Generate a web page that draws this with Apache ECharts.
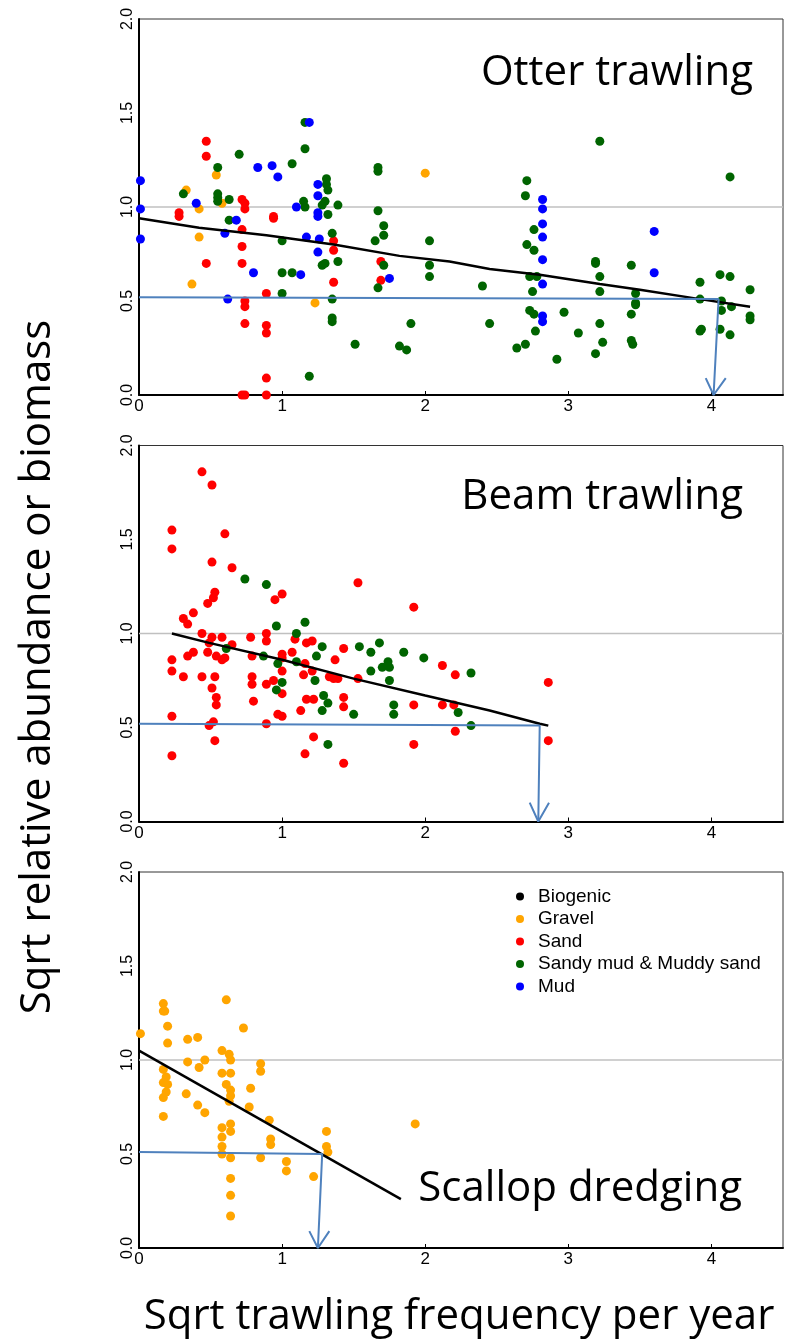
<!DOCTYPE html>
<html>
<head>
<meta charset="utf-8">
<script src="https://cdn.jsdelivr.net/npm/echarts@6/dist/echarts.min.js"></script>
<style>
  html, body { margin: 0; padding: 0; background: #fff; }
  #chart { width: 792px; height: 1340px; }
</style>
</head>
<body>
<div id="chart"></div>
<script>
const habitats = ['Biogenic', 'Gravel', 'Sand', 'Sandy mud & Muddy sand', 'Mud'];
const habitatColors = ['#000000', '#FFA500', '#FF0000', '#006400', '#0000FF'];
const panelNames = ['Otter trawling', 'Beam trawling', 'Scallop dredging'];
const xTicks = [0, 1, 2, 3, 4];
const refLine = [[0, 1], [4.5, 1]];

// Otter trawling
const otterGravel = [[0.33,1.09],[0.54,1.17],[0.58,1.02],[0.42,0.99],[0.42,0.84],[0.37,0.59],[1.23,0.49],[2.00,1.18]];
const otterSand = [[0.47,1.35],[0.47,1.27],[0.28,0.97],[0.28,0.95],[0.47,0.70],[0.72,1.04],[0.74,1.02],[0.74,0.99],
  [0.72,0.88],[0.72,0.79],[0.72,0.70],[0.74,0.50],[0.74,0.47],[0.74,0.38],[0.89,0.54],[0.89,0.37],[0.89,0.33],
  [0.89,0.09],[0.89,0.00],[0.72,0.00],[0.74,0.00],[0.94,0.95],[0.94,0.94],[1.36,0.82],[1.36,0.77],[1.36,0.60],
  [1.69,0.71],[1.69,0.61]];
const otterMixed = [[0.31,1.07],[0.55,1.21],[0.55,1.07],[0.55,1.05],[0.55,1.03],[0.63,1.04],[0.63,0.93],[0.70,1.28],
  [1.00,0.82],[1.00,0.65],[1.00,0.54],[1.07,0.65],[1.07,1.23],[1.16,1.45],[1.16,1.31],[1.15,1.03],[1.16,1.00],
  [1.19,0.10],[1.28,1.01],[1.30,1.03],[1.31,1.15],[1.31,1.12],[1.32,1.09],[1.32,0.96],[1.35,0.86],[1.28,0.69],
  [1.30,0.70],[1.39,0.71],[1.39,1.01],[1.35,0.51],[1.35,0.41],[1.35,0.39],[1.51,0.27],[1.67,1.21],[1.67,1.19],
  [1.67,0.98],[1.65,0.82],[1.71,0.90],[1.71,0.85],[1.71,0.69],[1.67,0.57],[1.90,0.38],[1.82,0.26],[1.87,0.24],
  [2.03,0.82],[2.03,0.69],[2.03,0.63],
  [3.22,1.35],[4.13,1.16],[2.71,1.14],[2.70,1.06],[2.76,0.88],[2.71,0.80],[2.76,0.77],[2.40,0.58],[2.73,0.63],
  [2.78,0.63],[2.75,0.55],[2.45,0.38],[2.73,0.45],[2.76,0.43],[2.77,0.34],[2.64,0.25],[2.70,0.27],[2.92,0.19],
  [2.97,0.44],[3.07,0.33],[3.19,0.71],[3.19,0.70],[3.22,0.63],[3.22,0.55],[3.22,0.38],[3.24,0.28],[3.19,0.22],
  [3.44,0.69],[3.47,0.54],[3.47,0.49],[3.47,0.48],[3.44,0.43],[3.44,0.29],[3.45,0.27],[3.92,0.60],[3.92,0.51],
  [3.93,0.35],[3.92,0.34],[4.06,0.64],[4.13,0.63],[4.07,0.50],[4.07,0.45],[4.14,0.47],[4.06,0.35],[4.13,0.32],
  [4.27,0.56],[4.27,0.42],[4.27,0.40]];
const otterMud = [[0.01,1.14],[0.01,0.99],[0.01,0.83],[0.40,1.02],[0.60,0.86],[0.62,0.51],[0.68,0.93],[0.80,0.65],
  [0.83,1.21],[0.93,1.22],[0.97,1.16],[1.10,1.00],[1.13,0.64],[1.17,0.84],[1.19,1.45],[1.25,1.12],[1.25,1.06],
  [1.25,0.97],[1.25,0.95],[1.26,0.83],[1.25,0.76],[1.75,0.62],
  [2.82,1.04],[2.82,0.99],[2.82,0.91],[2.82,0.84],[2.82,0.72],[2.82,0.59],[2.82,0.42],[2.82,0.39],[3.60,0.87],[3.60,0.65]];
const otterTrend = [[0,0.94],[0.42,0.89],[0.89,0.85],[1.36,0.80],[1.82,0.74],[2.17,0.71],[2.45,0.67],[2.80,0.64],
  [3.22,0.59],[3.50,0.56],[3.92,0.51],[4.27,0.47]];
const otterThreshold = [[0,0.52],[4.05,0.51],[4.015,0]];
const otterArrowHead = [[3.96,0.09],[4.015,0],[4.10,0.09]];

// Beam trawling
const beamSand = [[0.44,1.86],[0.51,1.79],[0.23,1.55],[0.23,1.45],[0.60,1.53],[0.51,1.38],[0.65,1.35],[0.53,1.22],
  [0.52,1.19],[0.48,1.16],[0.31,1.08],[0.34,1.05],[0.38,1.11],[0.44,1.00],[0.51,0.98],[0.58,0.98],[0.49,0.95],
  [0.65,0.94],[0.23,0.86],[0.23,0.80],[0.34,0.88],[0.38,0.90],[0.48,0.90],[0.54,0.88],[0.58,0.86],[0.60,0.87],
  [0.31,0.77],[0.44,0.77],[0.53,0.77],[0.51,0.71],[0.54,0.66],[0.54,0.62],[0.23,0.56],[0.49,0.51],[0.52,0.53],
  [0.53,0.43],[0.23,0.35],[0.78,0.98],[0.79,0.88],[0.79,0.77],[0.79,0.73],[0.80,0.64],[0.89,1.00],[0.89,0.96],
  [0.89,0.73],[0.89,0.52],[0.94,0.75],[0.95,1.18],[1.00,1.21],[1.00,0.89],[1.00,0.87],[1.00,0.80],[1.00,0.68],
  [0.97,0.57],[1.00,0.56],[1.07,0.90],[1.09,0.97],[1.17,0.95],[1.21,0.96],[1.16,0.84],[1.15,0.78],[1.21,0.80],
  [1.17,0.65],[1.22,0.65],[1.13,0.59],[1.16,0.36],[1.22,0.45],[1.33,0.77],[1.36,0.76],[1.39,0.76],[1.37,0.86],
  [1.43,0.92],[1.43,0.66],[1.43,0.61],[1.43,0.31],[1.53,1.27],[1.53,0.76],[1.92,1.14],[1.92,0.62],[1.92,0.41],
  [2.12,0.83],[2.12,0.62],[2.21,0.78],[2.20,0.62],[2.21,0.48],[2.86,0.74],[2.86,0.43]];
const beamMixed = [[0.74,1.29],[0.89,1.26],[0.96,1.04],[1.16,1.06],[1.10,1.00],[0.61,0.92],[0.87,0.88],[0.97,0.84],
  [1.10,0.85],[1.00,0.74],[0.96,0.70],[1.28,0.93],[1.24,0.88],[1.23,0.75],[1.29,0.67],[1.32,0.63],[1.28,0.59],
  [1.32,0.41],[1.50,0.57],[1.54,0.93],[1.62,0.90],[1.68,0.95],[1.62,0.80],[1.70,0.82],[1.74,0.85],[1.75,0.82],
  [1.75,0.75],[1.78,0.62],[1.78,0.57],[1.85,0.90],[1.99,0.87],[2.32,0.79],[2.23,0.58],[2.32,0.51]];
const beamTrend = [[0.23,1.00],[0.49,0.95],[1.00,0.86],[1.50,0.76],[2.00,0.67],[2.45,0.59],[2.80,0.52],[2.86,0.51]];
const beamThreshold = [[0,0.52],[2.80,0.51],[2.79,0]];
const beamArrowHead = [[2.73,0.10],[2.79,0],[2.865,0.10]];

// Scallop dredging
const scallopGravel = [[0.01,1.14],[0.17,1.30],[0.17,1.26],[0.18,1.26],[0.20,1.18],[0.20,1.09],[0.17,0.95],[0.19,0.91],
  [0.17,0.88],[0.20,0.87],[0.19,0.83],[0.17,0.80],[0.17,0.70],[0.34,1.11],[0.41,1.12],[0.34,0.99],[0.46,1.00],
  [0.42,0.96],[0.33,0.82],[0.41,0.76],[0.46,0.72],[0.61,1.32],[0.58,1.05],[0.63,1.03],[0.64,1.00],[0.58,0.93],
  [0.64,0.93],[0.61,0.87],[0.64,0.84],[0.64,0.81],[0.63,0.78],[0.58,0.64],[0.64,0.66],[0.64,0.62],[0.58,0.59],
  [0.58,0.54],[0.58,0.50],[0.64,0.48],[0.64,0.37],[0.64,0.28],[0.64,0.17],[0.73,1.17],[0.78,0.85],[0.77,0.75],
  [0.85,0.98],[0.85,0.94],[0.91,0.68],[0.92,0.58],[0.92,0.55],[0.85,0.48],[1.03,0.46],[1.03,0.41],[1.22,0.38],
  [1.31,0.62],[1.31,0.54],[1.32,0.51],[1.93,0.66]];
const scallopTrend = [[0,1.05],[1.83,0.26]];
const scallopThreshold = [[0,0.51],[1.28,0.50],[1.25,0]];
const scallopArrowHead = [[1.19,0.09],[1.25,0],[1.33,0.09]];

const panelPoints = [
  [[], otterGravel, otterSand, otterMixed, otterMud],
  [[], [], beamSand, beamMixed, []],
  [[], scallopGravel, [], [], []]
];
const panelTrends = [otterTrend, beamTrend, scallopTrend];
const panelThresholds = [otterThreshold, beamThreshold, scallopThreshold];
const panelArrowHeads = [otterArrowHead, beamArrowHead, scallopArrowHead];

const gridTops = [19, 445.5, 872];
const tickFont = 'Liberation Sans, Arial, sans-serif';
const bigFont = '"Open Sans", "Noto Sans", sans-serif';

function lineSeries(i, data, color, width, z) {
  return {
    type: 'line', xAxisIndex: i, yAxisIndex: i, data: data,
    symbol: 'none', silent: true, z: z,
    lineStyle: { color: color, width: width }
  };
}

let series = [];
panelPoints.forEach((pts, i) => {
  series.push(lineSeries(i, refLine, '#c0c0c0', 1.5, 1));
  habitats.forEach((h, k) => {
    series.push({
      name: h, type: 'scatter', xAxisIndex: i, yAxisIndex: i,
      data: pts[k], symbol: 'circle', symbolSize: 9, clip: false, z: 2,
      itemStyle: { color: habitatColors[k], opacity: 1 }
    });
  });
  series.push(lineSeries(i, panelTrends[i], '#000', 2.5, 3));
  series.push(lineSeries(i, panelThresholds[i], '#4F81BD', 2, 4));
  series.push(lineSeries(i, panelArrowHeads[i], '#4F81BD', 2, 4));
});

const titlePos = [
  { right: 39, top: 52 },
  { right: 49, top: 476 },
  { right: 50, top: 1168 }
];

const chart = echarts.init(document.getElementById('chart'));
chart.setOption({
  animation: false,
  backgroundColor: '#fff',
  grid: gridTops.map(t => ({
    left: 139, right: 9, top: t, height: 376,
    show: true, borderColor: '#333', borderWidth: 1
  })),
  xAxis: gridTops.map((t, i) => ({
    type: 'value', gridIndex: i, min: 0, max: 4.5, interval: 1,
    axisLine: { show: true, onZero: false, lineStyle: { color: '#000', width: 2 } },
    axisTick: { show: true, inside: true, length: 4, customValues: xTicks, lineStyle: { color: '#000' } },
    axisLabel: { customValues: xTicks, margin: 3, fontFamily: tickFont, fontSize: 17, color: '#000' },
    splitLine: { show: false }
  })),
  yAxis: gridTops.map((t, i) => ({
    type: 'value', gridIndex: i, min: 0, max: 2, interval: 0.5,
    axisLine: { show: true, onZero: false, lineStyle: { color: '#000', width: 2 } },
    axisTick: { show: false },
    axisLabel: {
      rotate: 90, margin: 3, fontFamily: tickFont, fontSize: 16, color: '#000',
      formatter: v => v.toFixed(1)
    },
    splitLine: { show: false }
  })),
  legend: {
    data: habitats,
    orient: 'vertical',
    left: 516, top: 887, padding: 0,
    itemWidth: 26, itemHeight: 8, itemGap: 3.5,
    symbolKeepAspect: true,
    icon: 'circle',
    selectedMode: false,
    textStyle: { fontFamily: tickFont, fontSize: 19, lineHeight: 19, color: '#000' }
  },
  graphic: panelNames.map((name, i) => ({
    type: 'text', right: titlePos[i].right, top: titlePos[i].top,
    style: { text: name, font: '42px ' + bigFont, fill: '#000' }
  })).concat([
    {
      type: 'text', x: 459, y: 1296,
      style: { text: 'Sqrt trawling frequency per year', font: '42px ' + bigFont, fill: '#000',
        textAlign: 'center', textVerticalAlign: 'top' }
    },
    {
      type: 'text', x: 38, y: 667, rotation: Math.PI / 2,
      style: { text: 'Sqrt relative abundance or biomass', font: '42px ' + bigFont, fill: '#000',
        textAlign: 'center', textVerticalAlign: 'middle' }
    }
  ]),
  series: series
});
</script>
</body>
</html>
